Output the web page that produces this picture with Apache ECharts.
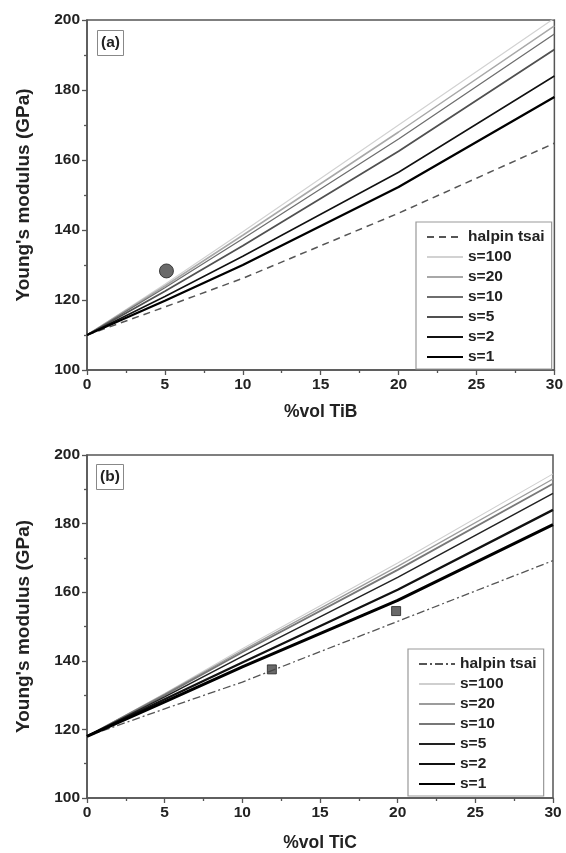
<!DOCTYPE html>
<html>
<head>
<meta charset="utf-8">
<script src="https://cdn.jsdelivr.net/npm/echarts@6/dist/echarts.min.js"></script>
<style>
  html, body { margin: 0; padding: 0; background: #fff; }
  #chart { width: 566px; height: 853px; }
</style>
</head>
<body>
<div id="chart"></div>
<script>
// volume fraction points (%)
const volPts = [0, 5, 10, 20, 30];
const seriesNames = ['halpin tsai', 's=100', 's=20', 's=10', 's=5', 's=2', 's=1'];

// (a) TiB
const tibHalpin = [110, 118, 126.2, 144.8, 164.8];
const tibS100 = [110, 124.5, 139.5, 170, 200.5];
const tibS20 = [110, 124, 138.5, 168, 198.3];
const tibS10 = [110, 123.5, 137.5, 166, 196];
const tibS5 = [110, 122.5, 135.5, 162.5, 191.6];
const tibS2 = [110, 121, 132.5, 156.5, 184];
const tibS1 = [110, 119.8, 130, 152.3, 178];
const tibExp = [[5.1, 128.3]];

// (b) TiC
const ticHalpin = [118, 126, 133.8, 151.5, 169.2];
const ticS100 = [118, 130.5, 143.5, 168.5, 194.5];
const ticS20 = [118, 130.3, 143, 167.5, 193];
const ticS10 = [118, 130, 142.5, 166.5, 191.6];
const ticS5 = [118, 129.5, 141.3, 164.3, 188.8];
const ticS2 = [118, 128.8, 139.5, 160.7, 184];
const ticS1 = [118, 128, 138.2, 157.6, 179.7];
const ticExp = [[11.9, 137.5], [19.9, 154.5]];

const font = 'Liberation Sans, Arial, sans-serif';
const axisCol = '#555';

const zip = ys => volPts.map((x, i) => [x, ys[i]]);

const styleA = [
  { color: '#555', width: 1.5, type: [7, 5] },
  { color: '#d2d2d2', width: 1.2 },
  { color: '#a8a8a8', width: 1.5 },
  { color: '#6e6e6e', width: 1.3 },
  { color: '#505050', width: 1.8 },
  { color: '#111', width: 1.5 },
  { color: '#000', width: 2.3 }
];
const styleB = [
  { color: '#555', width: 1.3, type: [8, 3, 2, 3] },
  { color: '#cfcfcf', width: 1.1 },
  { color: '#9c9c9c', width: 1.4 },
  { color: '#777', width: 1.8 },
  { color: '#222', width: 1.5 },
  { color: '#111', width: 2.3 },
  { color: '#000', width: 3 }
];

const dataA = [tibHalpin, tibS100, tibS20, tibS10, tibS5, tibS2, tibS1];
const dataB = [ticHalpin, ticS100, ticS20, ticS10, ticS5, ticS2, ticS1];

function lineSeries(prefix, idx, data, styles) {
  return data.map((ys, i) => ({
    name: prefix + seriesNames[i],
    type: 'line',
    xAxisIndex: idx,
    yAxisIndex: idx,
    data: zip(ys),
    symbol: 'none',
    lineStyle: styles[i],
    itemStyle: { color: styles[i].color },
    z: 2 + i,
    silent: true
  }));
}

const labelStyle = { fontFamily: font, fontWeight: 'bold', fontSize: 15.5, color: '#222' };
const nameStyle = { fontFamily: font, fontWeight: 'bold', fontSize: 17.5, color: '#222' };

function xAxis(idx, name, gap) {
  return {
    gridIndex: idx, type: 'value', min: 0, max: 30, interval: 5,
    name: name, nameLocation: 'middle', nameGap: gap,
    nameTextStyle: nameStyle,
    axisLine: { lineStyle: { color: axisCol, width: 1.5 } },
    axisTick: { lineStyle: { color: axisCol, width: 1.3 }, length: 5 },
    minorTick: { show: true, splitNumber: 2, length: 3, lineStyle: { color: axisCol, width: 1.3 } },
    axisLabel: Object.assign({ margin: 7 }, labelStyle),
    splitLine: { show: false }
  };
}

function yAxis(idx) {
  return {
    gridIndex: idx, type: 'value', min: 100, max: 200, interval: 20,
    name: "Young's modulus (GPa)", nameLocation: 'middle', nameGap: 54,
    nameTextStyle: Object.assign({}, nameStyle, { fontSize: 19 }),
    axisLine: { lineStyle: { color: axisCol, width: 1.5 } },
    axisTick: { lineStyle: { color: axisCol, width: 1.3 }, length: 5 },
    minorTick: { show: true, splitNumber: 2, length: 3, lineStyle: { color: axisCol, width: 1.3 } },
    axisLabel: Object.assign({ margin: 7 }, labelStyle),
    splitLine: { show: false }
  };
}

function legend(prefix, pos) {
  return Object.assign({
    orient: 'vertical',
    data: seriesNames.map(n => prefix + n),
    formatter: n => n.slice(prefix.length),
    itemWidth: 36, itemHeight: 14, itemGap: 4,
    padding: [7, 7, 4, 10],
    borderColor: '#999', borderWidth: 1.2,
    backgroundColor: '#fff',
    selectedMode: false,
    itemStyle: { opacity: 0, borderWidth: 0 },
    textStyle: { fontFamily: font, fontWeight: 'bold', fontSize: 15.5, lineHeight: 16, color: '#222' }
  }, pos);
}

const chart = echarts.init(document.getElementById('chart'));

const option = {
  animation: false,
  backgroundColor: '#fff',
  title: [
    { text: '(a)', left: 97, top: 30, padding: [5, 4, 5, 4], borderColor: '#888', borderWidth: 1,
      textStyle: { fontFamily: font, fontWeight: 'bold', fontSize: 15.5, color: '#222' } },
    { text: '(b)', left: 96, top: 464, padding: [5, 4, 5, 4], borderColor: '#888', borderWidth: 1,
      textStyle: { fontFamily: font, fontWeight: 'bold', fontSize: 15.5, color: '#222' } }
  ],
  grid: [
    { left: 87, top: 20, right: 9, height: 350, show: true, borderColor: axisCol, borderWidth: 1.5 },
    { left: 87, top: 455, right: 13, height: 347, show: true, borderColor: axisCol, borderWidth: 1.5 }
  ],
  xAxis: [xAxis(0, '%vol TiB', 33), xAxis(1, '%vol TiC', 36)],
  yAxis: [yAxis(0), yAxis(1)],
  legend: [
    legend('a:', { left: 416, top: 222 }),
    legend('b:', { left: 408, top: 649 })
  ],
  series: [
    ...lineSeries('a:', 0, dataA, styleA),
    ...lineSeries('b:', 1, dataB, styleB),
    {
      type: 'scatter', xAxisIndex: 0, yAxisIndex: 0, data: tibExp,
      symbol: 'circle', symbolSize: 14,
      itemStyle: { color: '#444', borderColor: '#222', borderWidth: 1 }, z: 10
    },
    {
      type: 'scatter', xAxisIndex: 1, yAxisIndex: 1, data: ticExp,
      symbol: 'rect', symbolSize: 9,
      itemStyle: { color: '#444', borderColor: '#222', borderWidth: 1 }, z: 10
    }
  ]
};

chart.setOption(option);
</script>
</body>
</html>
